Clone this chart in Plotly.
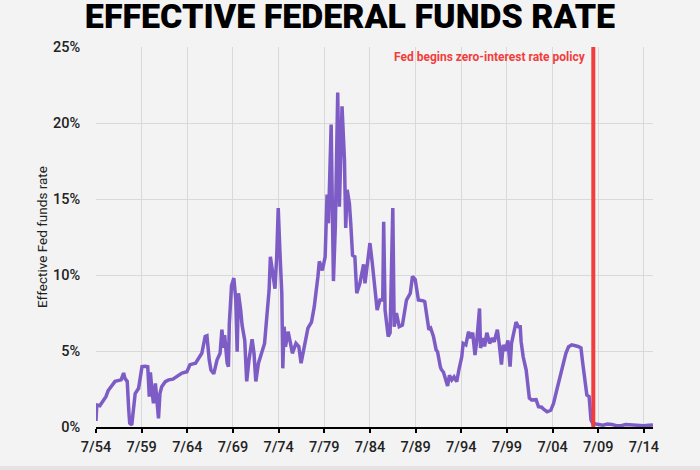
import plotly.graph_objects as go

# ---- data ----
dates_50s60s = [
    "1954-07-01", "1954-08-01", "1954-12-01", "1955-03-01", "1955-06-01", "1955-08-01",
    "1955-11-01", "1956-04-01", "1956-08-01", "1957-04-01", "1957-07-10", "1957-09-01",
    "1957-12-01", "1958-02-01", "1958-03-10", "1958-06-01", "1958-07-25", "1958-10-15",
    "1959-03-01", "1959-05-01", "1959-07-15", "1959-12-01", "1960-03-01", "1960-05-01",
    "1960-06-15", "1960-08-15", "1960-10-15", "1961-01-01", "1961-02-20", "1961-05-05",
    "1961-07-01", "1961-09-10", "1962-02-01", "1962-06-15", "1962-12-01", "1963-07-15",
    "1963-12-01", "1964-06-15", "1964-10-15", "1965-05-25", "1965-10-01", "1966-02-01",
    "1966-06-15", "1966-08-25", "1966-11-25", "1967-02-01", "1967-05-25", "1967-10-01",
    "1968-02-01", "1968-04-15", "1968-06-15", "1968-08-01", "1968-11-10", "1968-12-31",
]
rates_50s60s = [
    0.4, 1.45, 1.4, 1.6, 1.8, 2.0,
    2.4, 2.76, 3.0, 3.1, 3.55, 3.2,
    3.0, 1.1, 0.25, 0.13, 0.9, 2.2,
    2.55, 3.1, 3.97, 4.0, 3.97, 2.0,
    3.6, 2.4, 1.56, 2.87, 1.8, 0.57,
    2.2, 2.65, 2.98, 3.1, 3.15, 3.4,
    3.55, 3.64, 4.1, 4.2, 4.5, 4.85,
    5.95, 6.0, 4.4, 3.75, 3.5, 4.4,
    4.85, 6.4, 5.2, 6.05, 4.2, 3.97,
]

dates_70s = [
    "1969-02-05", "1969-05-05", "1969-08-05", "1969-10-20", "1969-12-15", "1970-02-05",
    "1970-05-05", "1970-07-01", "1970-10-15", "1971-01-01", "1971-04-01", "1971-08-05",
    "1971-10-20", "1972-01-01", "1972-04-15", "1972-08-25", "1972-12-15", "1973-03-15",
    "1973-06-15", "1973-08-05", "1973-11-25", "1974-02-05", "1974-04-15", "1974-06-15",
    "1974-08-25", "1974-11-05", "1974-12-15", "1975-02-05", "1975-04-01", "1975-07-15",
    "1975-10-20", "1976-01-01", "1976-05-25", "1976-09-15", "1976-12-15", "1977-04-15",
    "1977-09-15", "1978-02-05", "1978-05-25", "1978-10-20", "1978-12-15", "1979-04-15",
    "1979-08-05", "1979-10-20", "1979-12-15",
]
rates_70s = [
    6.8, 9.3, 9.8, 8.4, 4.95, 8.8,
    7.7, 6.7, 5.7, 3.0, 4.4, 5.77,
    4.85, 3.0, 4.2, 4.85, 5.5, 7.25,
    9.0, 11.2, 9.7, 9.1, 11.2, 14.4,
    11.4, 8.8, 3.86, 6.6, 5.28, 6.27,
    5.5, 4.85, 5.5, 5.3, 4.2, 5.28,
    6.5, 6.9, 7.9, 9.9, 10.9, 10.3,
    11.2, 15.3, 13.4,
]

dates_80s = [
    "1980-04-01", "1980-07-01", "1980-09-15", "1980-12-20", "1981-02-25", "1981-06-10",
    "1981-09-15", "1981-11-05", "1982-01-01", "1982-04-01", "1982-05-25", "1982-08-05",
    "1982-11-05", "1983-01-20", "1983-05-25", "1983-10-20", "1983-12-15", "1984-04-01",
    "1984-07-01", "1984-10-01", "1985-01-20", "1985-04-15", "1985-08-05", "1985-11-25",
    "1986-01-01", "1986-02-25", "1986-07-01", "1986-09-15", "1987-01-01", "1987-02-25",
    "1987-05-25", "1987-09-15", "1988-01-20", "1988-07-01", "1988-12-01", "1989-02-25",
    "1989-06-15", "1989-10-20",
]
rates_80s = [
    19.9, 9.6, 13.2, 22.0, 14.5, 21.1,
    17.6, 13.1, 15.6, 14.7, 13.4, 11.3,
    11.2, 8.8, 9.45, 10.7, 9.45, 11.0,
    12.1, 10.8, 8.9, 7.7, 8.35, 8.35,
    13.5, 7.7, 5.95, 6.2, 14.4, 6.6,
    7.5, 6.6, 6.7, 8.35, 8.8, 9.9,
    9.7, 8.35,
]

dates_90s = [
    "1990-05-05", "1990-07-01", "1990-10-20", "1990-12-15", "1991-02-25", "1991-06-15",
    "1991-10-01", "1991-11-25", "1992-03-15", "1992-04-20", "1992-07-20", "1992-11-05",
    "1993-01-01", "1993-03-15", "1993-06-15", "1993-09-15", "1994-01-01", "1994-04-01",
    "1994-07-20", "1994-09-15", "1995-01-01", "1995-04-20", "1995-07-01", "1995-10-01",
    "1996-01-01", "1996-03-15", "1996-07-01", "1996-08-10", "1996-11-25", "1997-01-20",
    "1997-04-20", "1997-08-10", "1997-11-25", "1998-02-05", "1998-06-15", "1998-08-25",
    "1998-11-25", "1999-02-05", "1999-05-05", "1999-08-10", "1999-11-05",
]
rates_90s = [
    8.3, 8.25, 7.0, 6.4, 6.5, 5.95,
    5.07, 4.95, 3.97, 3.8, 3.6, 3.1,
    2.7, 3.4, 3.1, 3.3, 2.98, 3.8,
    4.6, 5.5, 5.4, 6.27, 5.85, 6.2,
    4.74, 5.7, 7.8, 5.2, 5.85, 5.3,
    6.2, 5.5, 5.85, 5.6, 6.4, 5.5,
    4.1, 5.4, 5.0, 5.7, 3.97,
]

dates_00s10s = [
    "2000-01-01", "2000-04-20", "2000-07-01", "2000-10-01", "2000-12-15", "2001-01-20",
    "2001-04-15", "2001-08-10", "2001-11-05", "2001-12-15", "2002-03-15", "2002-09-10",
    "2002-12-15", "2003-04-20", "2003-07-20", "2003-11-25", "2004-04-20", "2004-08-10",
    "2004-11-25", "2005-04-01", "2005-08-10", "2005-12-15", "2006-04-01", "2006-08-10",
    "2007-04-20", "2007-08-10", "2007-10-20", "2008-01-20", "2008-04-01", "2008-07-01",
    "2008-09-15", "2008-11-25", "2009-03-01", "2009-07-01", "2010-01-01", "2010-07-01",
    "2011-01-01", "2011-07-01", "2012-01-01", "2012-07-01", "2013-01-01", "2013-07-01",
    "2014-01-01", "2014-07-01", "2015-01-01", "2015-07-01",
]
rates_00s10s = [
    5.5, 6.4, 6.9, 6.6, 6.6, 5.6,
    4.6, 3.75, 2.65, 1.9, 1.78, 1.8,
    1.34, 1.3, 1.15, 1.0, 1.1, 1.56,
    2.3, 3.2, 4.1, 4.85, 5.28, 5.4,
    5.3, 5.2, 4.2, 2.87, 2.1, 2.0,
    0.46, 0.24, 0.2, 0.16, 0.12, 0.19,
    0.17, 0.08, 0.09, 0.16, 0.14, 0.09,
    0.07, 0.09, 0.11, 0.13,
]

dates = dates_50s60s + dates_70s + dates_80s + dates_90s + dates_00s10s
rates = rates_50s60s + rates_70s + rates_80s + rates_90s + rates_00s10s

zirp_date = "2008-12-16"
zirp_label = "Fed begins zero-interest rate policy"
title_text = "EFFECTIVE FEDERAL FUNDS RATE"
y_title = "Effective Fed funds rate"
x_range = ["1954-07-01", "2015-07-01"]

# ---- figure ----
purple = "#7d5cc6"
red = "#f23d3d"
bg = "#f3f3f3"
grid = "#d9d9d9"

fig = go.Figure()
fig.add_trace(go.Scatter(
    x=dates, y=rates, mode="lines",
    line=dict(color=purple, width=3.5), hoverinfo="skip",
))

fig.update_layout(
    width=700, height=470,
    margin=dict(l=96, r=47, t=47, b=43),
    paper_bgcolor=bg, plot_bgcolor=bg,
    showlegend=False,
    font=dict(family="Roboto", color="#222222", size=13),
    title=dict(
        text=title_text, x=0.5, xref="container", xanchor="center",
        y=1 - 16 / 470, yref="container", yanchor="middle",
        font=dict(family="Roboto", size=34, weight=900, color="#000000"),
    ),
    xaxis=dict(
        type="date", range=x_range, tick0="1954-07-01", dtick="M60",
        tickformat="%-m/%y", showgrid=True, gridcolor=grid, gridwidth=1,
        showline=True, linecolor="#000000", linewidth=2,
        ticks="outside", ticklen=4, tickwidth=2, tickcolor="#000000",
        ticklabelstandoff=2,
        tickfont=dict(size=14.5, color="#222222", weight=500),
        zeroline=False,
    ),
    yaxis=dict(
        range=[0, 25], dtick=5, ticksuffix="%",
        showgrid=True, gridcolor=grid, gridwidth=1, zeroline=False,
        showline=False, ticks="outside", ticklen=12, tickcolor="rgba(0,0,0,0)",
        tickfont=dict(size=14.5, color="#222222", weight=500),
        title=dict(text=y_title, font=dict(size=13.5, color="#222222"), standoff=2),
    ),
    shapes=[
        dict(type="line", xref="x", yref="paper", x0=zirp_date, x1=zirp_date,
             y0=0, y1=1, line=dict(color=red, width=4), layer="above"),
        dict(type="rect", xref="paper", yref="paper", x0=-0.2, x1=1.2,
             y0=(427 - 466) / 380, y1=-0.2, fillcolor="#e3e3e3",
             line=dict(width=0), layer="below"),
    ],
    annotations=[
        dict(x=zirp_date, xref="x", xanchor="right", xshift=-5,
             y=(427 - 57) / 380, yref="paper", yanchor="middle",
             text=zirp_label, showarrow=False,
             font=dict(size=12, color=red, weight="bold")),
    ],
)

fig.write_html("out.html")
